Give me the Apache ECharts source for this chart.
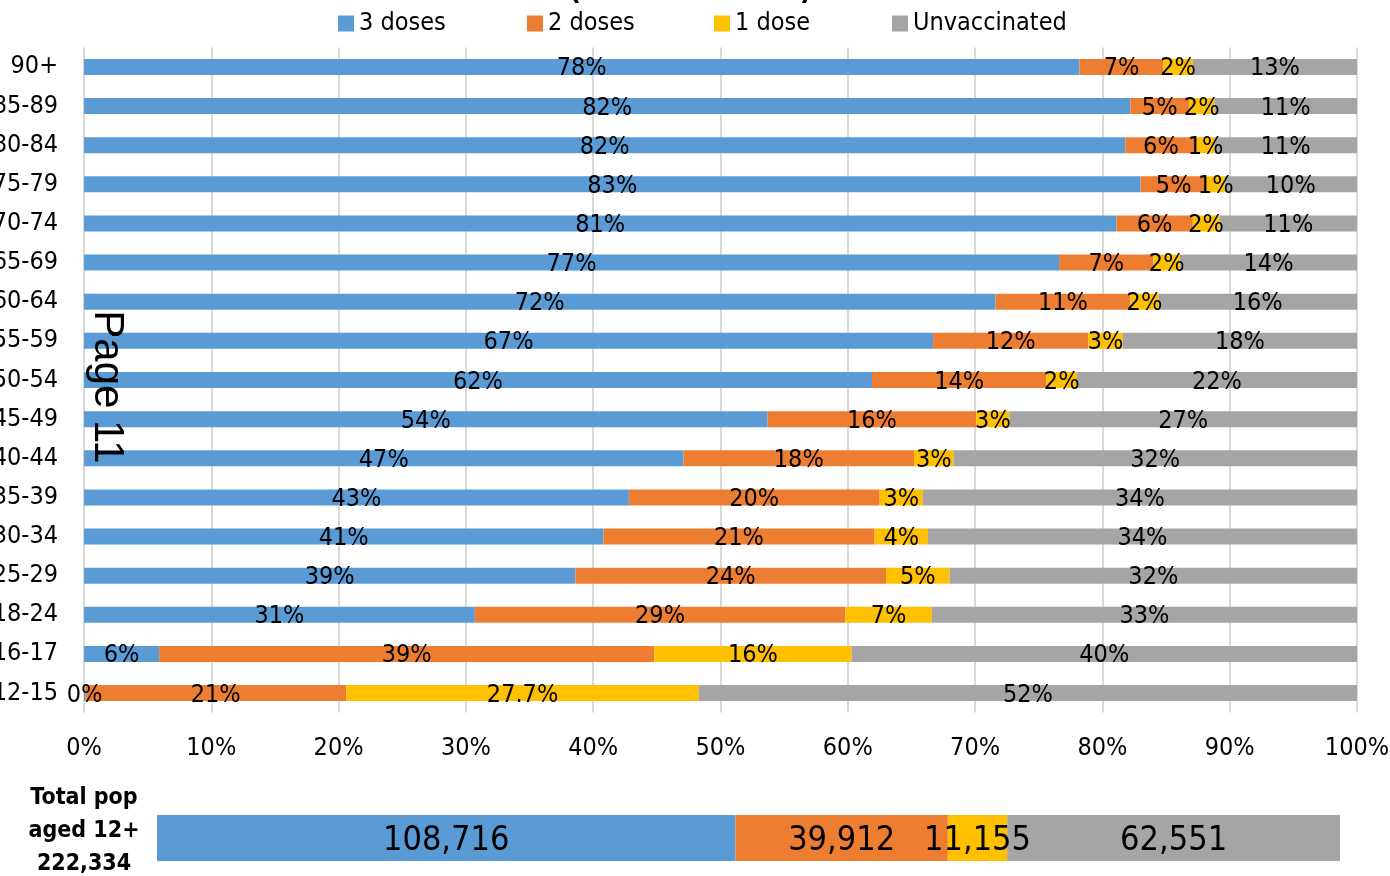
<!DOCTYPE html>
<html><head><meta charset="utf-8">
<script src="https://cdn.jsdelivr.net/npm/echarts/dist/echarts.min.js"></script>
<style>html,body{margin:0;padding:0;background:#fff;overflow:hidden}#c{width:1390px;height:876px}</style>
</head><body><div id="c"></div>
<script>
// Categories listed bottom-to-top (ECharts category y axis starts at the bottom)
const categories = ['12-15','16-17','18-24','25-29','30-34','35-39','40-44','45-49','50-54','55-59','60-64','65-69','70-74','75-79','80-84','85-89','90+'];
const seriesNames = ['3 doses','2 doses','1 dose','Unvaccinated'];
const dose3 = [0.1, 5.9, 30.7, 38.6, 40.8, 42.8, 47.1, 53.7, 61.9, 66.7, 71.6, 76.6, 81.1, 83.0, 81.8, 82.2, 78.2];
const dose2 = [20.5, 38.9, 29.1, 24.4, 21.3, 19.7, 18.1, 16.4, 13.7, 12.2, 10.6, 7.4, 6.0, 5.2, 5.6, 4.6, 6.6];
const dose1 = [27.7, 15.5, 6.8, 5.0, 4.2, 3.4, 3.1, 2.6, 2.4, 2.7, 2.2, 2.1, 2.1, 1.4, 1.4, 2.0, 2.3];
const unvaccinated = [51.7, 39.7, 33.4, 32.0, 33.7, 34.1, 31.7, 27.3, 22.0, 18.4, 15.6, 13.9, 10.8, 10.4, 11.2, 11.2, 12.9];
// labels shown with one decimal (series|category)
const oneDecimalLabels = ['1 dose|12-15'];
const totalCategory = ['Total pop aged 12+'];
const totalCounts = [108716, 39912, 11155, 62551];
const totalPopulation = 222334;
const totalText = ['Total pop', 'aged 12+', '222,334'];
const pageText = 'Page 11';

const colors = ['#5B9BD5', '#ED7D31', '#FFC000', '#A5A5A5'];
const FONT = "'Liberation Sans Narrow', 'DejaVu Sans Condensed', 'Liberation Sans', sans-serif";
const pctData = [dose3, dose2, dose1, unvaccinated];

const chart = echarts.init(document.getElementById('c'), null, {renderer: 'canvas'});

const mainSeries = seriesNames.map((name, i) => ({
  name, type: 'bar', stack: 'pct', xAxisIndex: 0, yAxisIndex: 0,
  barWidth: 16, data: pctData[i],
  itemStyle: {color: colors[i]},
  emphasis: {disabled: true},
  label: {
    show: true, position: 'inside', offset: [0, 2], color: '#000', fontSize: 25, fontFamily: FONT,
    formatter: p => oneDecimalLabels.includes(p.seriesName + '|' + p.name)
      ? p.value.toFixed(1) + '%' : Math.round(p.value) + '%'
  }
}));

const totalSeries = seriesNames.map((name, i) => ({
  name, type: 'bar', stack: 'tot', xAxisIndex: 1, yAxisIndex: 1,
  barWidth: '100%', data: [totalCounts[i]],
  itemStyle: {color: colors[i]},
  emphasis: {disabled: true},
  label: {
    show: true, position: 'inside', offset: [0, 3], color: '#000', fontSize: 34, fontFamily: FONT,
    formatter: p => p.value.toLocaleString('en-US')
  }
}));

const legendLefts = [338, 527, 714, 892];
const legends = seriesNames.map((name, i) => ({
  data: [name], left: legendLefts[i], top: 11, padding: 0, itemGap: 0,
  icon: 'rect', itemWidth: 16, itemHeight: 16, selectedMode: false,
  textStyle: {fontSize: 25, fontFamily: FONT, color: '#000', lineHeight: 25}
}));

chart.setOption({
  animation: false,
  backgroundColor: '#fff',
  legend: legends,
  grid: [
    {left: 84, right: 33, top: 47.4, height: 665.2, containLabel: false, outerBoundsMode: 'none'},
    {left: 157, right: 50, top: 815, height: 46, containLabel: false, outerBoundsMode: 'none'}
  ],
  xAxis: [
    {type: 'value', gridIndex: 0, min: 0, max: 100, interval: 10,
      axisLine: {show: false}, axisTick: {show: false},
      splitLine: {show: true, lineStyle: {color: '#d9d9d9', width: 2}},
      axisLabel: {formatter: '{value}%', fontSize: 25, fontFamily: FONT, color: '#000', margin: 23}},
    {type: 'value', gridIndex: 1, min: 0, max: totalPopulation, show: false}
  ],
  yAxis: [
    {type: 'category', gridIndex: 0, data: categories,
      axisLine: {show: false}, axisTick: {show: false}, splitLine: {show: false},
      axisLabel: {fontSize: 25, fontFamily: FONT, color: '#000', margin: 26, padding: [4, 0, 0, 0]}},
    {type: 'category', gridIndex: 1, data: totalCategory, show: false}
  ],
  series: mainSeries.concat(totalSeries),
  graphic: [
    {type: 'text', x: 575, y: -9, z: 10, silent: true,
      style: {text: '(', font: "bold 30px " + FONT, fill: '#000', align: 'center', verticalAlign: 'middle', textAlign: 'center', textVerticalAlign: 'middle'}},
    {type: 'text', x: 806, y: -9, z: 10, silent: true,
      style: {text: ')', font: "bold 30px " + FONT, fill: '#000', align: 'center', verticalAlign: 'middle', textAlign: 'center', textVerticalAlign: 'middle'}},
    {type: 'text', x: 84, y: 831, z: 10, silent: true,
      style: {text: totalText.join('\n'), font: "bold 23px " + FONT, lineHeight: 33, fill: '#000', align: 'center', verticalAlign: 'middle', textAlign: 'center', textVerticalAlign: 'middle'}},
    {type: 'text', x: 107, y: 387, rotation: -Math.PI / 2, z: 20, silent: true,
      style: {text: pageText, font: "42px 'Liberation Sans', Arial, sans-serif", fill: '#000', align: 'center', verticalAlign: 'middle', textAlign: 'center', textVerticalAlign: 'middle'}}
  ]
});
</script>
</body></html>
